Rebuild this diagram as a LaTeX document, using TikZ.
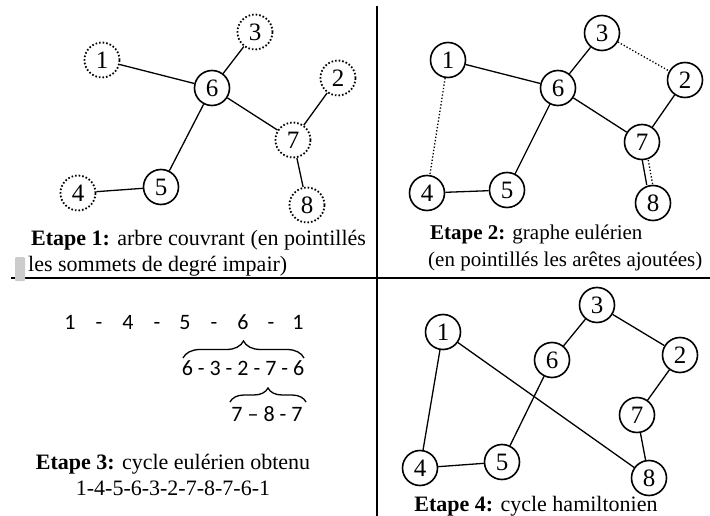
\documentclass[tikz,border=0pt]{standalone}
\usepackage{fontspec}
\setmainfont{Liberation Serif}
\newfontfamily\calib{Carlito}
\usetikzlibrary{decorations.pathreplacing}
\begin{document}
\begin{tikzpicture}[x=1pt,y=-1pt,
  vtx/.style={circle,draw,line width=1.6pt,minimum size=35pt,inner sep=0pt,font=\fontsize{25}{25}\selectfont},
  dvtx/.style={vtx,dotted,line width=1.8pt},
  edge/.style={line width=1.3pt},
  dedge/.style={line width=1.3pt,dotted},
  captxt/.style={font=\fontsize{22}{26}\selectfont,inner sep=0pt},
  seq/.style={font=\calib\fontsize{22}{22}\selectfont,inner sep=0pt,anchor=base},
  bracestyle/.style={line width=1.3pt,decorate,decoration={brace,amplitude=#1,aspect=0.5}},
  sepline/.style={line width=1.4pt}]
\useasboundingbox (0,0) rectangle (710,516);
% separators
\coordinate (vt) at (377,6);
\coordinate (vb) at (377,516);
\coordinate (hl) at (11,278);
\coordinate (hr) at (710,278);
\draw[sepline] (vt) -- (vb);
\draw[sepline] (hl) -- (hr);
\fill[gray!40,rounded corners=1pt] (15,257) rectangle (25,281);
% panel 1
\node[dvtx] (a1) at (102,60) {1};
\node[dvtx] (a3) at (255,32) {3};
\node[vtx]  (a6) at (212,88) {6};
\node[dvtx] (a2) at (338,78) {2};
\node[dvtx] (a7) at (293,140) {7};
\node[vtx]  (a5) at (161,187) {5};
\node[dvtx] (a4) at (78,193) {4};
\node[dvtx] (a8) at (307,205) {8};
\draw[edge] (a1) -- (a6);
\draw[edge] (a3) -- (a6);
\draw[edge] (a6) -- (a7);
\draw[edge] (a6) -- (a5);
\draw[edge] (a4) -- (a5);
\draw[edge] (a2) -- (a7);
\draw[edge] (a7) -- (a8);
\node[captxt,anchor=base west] (c1) at (31,245) {\textbf{Etape 1:} arbre couvrant (en pointillés};
\node[captxt,anchor=base west] (c1b) at (28,271) {les sommets de degré impair)};
% panel 2
\node[vtx] (b1) at (448,60) {1};
\node[vtx] (b3) at (602,33) {3};
\node[vtx] (b6) at (558,88) {6};
\node[vtx] (b2) at (685,80) {2};
\node[vtx] (b7) at (642,142) {7};
\node[vtx] (b5) at (507,190) {5};
\node[vtx] (b4) at (427,193) {4};
\node[vtx] (b8) at (653,203) {8};
\draw[edge] (b1) -- (b6);
\draw[edge] (b3) -- (b6);
\draw[edge] (b6) -- (b7);
\draw[edge] (b6) -- (b5);
\draw[edge] (b4) -- (b5);
\draw[edge] (b2) -- (b7);
\draw[dedge] (b1) -- (b4);
\draw[dedge] (b3) -- (b2);
\draw[edge,transform canvas={xshift=-3pt}] (b7) -- (b8);
\draw[dedge,transform canvas={xshift=3pt}] (b7) -- (b8);
\node[captxt,font=\fontsize{21}{25}\selectfont,anchor=base west] (c2) at (430,240) {\textbf{Etape 2:} graphe eulérien};
\node[captxt,font=\fontsize{21}{25}\selectfont,anchor=base west] (c2b) at (428,266) {(en pointillés les arêtes ajoutées)};
% panel 3
\node[seq] (s1) at (70,329) {1};
\node[seq] (d1) at (99,329) {-};
\node[seq] (s2) at (128,329) {4};
\node[seq] (d2) at (157,329) {-};
\node[seq] (s3) at (185,329) {5};
\node[seq] (d3) at (214,329) {-};
\node[seq] (s4) at (243,329) {6};
\node[seq] (d4) at (271,329) {-};
\node[seq] (s5) at (298,329) {1};
\coordinate (br1l) at (183,358);
\coordinate (br1r) at (304,358);
\draw[bracestyle=17pt] (br1l) -- (br1r);
\node[seq] (t1) at (243,375) {6 - 3 - 2 - 7 - 6};
\coordinate (br2l) at (230,402);
\coordinate (br2r) at (306,402);
\draw[bracestyle=14pt] (br2l) -- (br2r);
\node[seq] (t2) at (267,421) {7 – 8 - 7};
\node[captxt,anchor=base] (c3) at (173,469) {\textbf{Etape 3:} cycle eulérien obtenu};
\node[captxt,anchor=base] (c3b) at (173,495) {1-4-5-6-3-2-7-8-7-6-1};
% panel 4
\node[vtx] (d41) at (443,332) {1};
\node[vtx] (d43) at (597,305) {3};
\node[vtx] (d46) at (552,360) {6};
\node[vtx] (d42) at (680,355) {2};
\node[vtx] (d47) at (637,415) {7};
\node[vtx] (d45) at (502,462) {5};
\node[vtx] (d44) at (420,468) {4};
\node[vtx] (d48) at (649,478) {8};
\draw[edge] (d41) -- (d44);
\draw[edge] (d44) -- (d45);
\draw[edge] (d45) -- (d46);
\draw[edge] (d46) -- (d43);
\draw[edge] (d43) -- (d42);
\draw[edge] (d42) -- (d47);
\draw[edge] (d47) -- (d48);
\draw[edge] (d48) -- (d41);
\node[captxt,anchor=base] (c4) at (536,511) {\textbf{Etape 4:} cycle hamiltonien};
\end{tikzpicture}
\end{document}
